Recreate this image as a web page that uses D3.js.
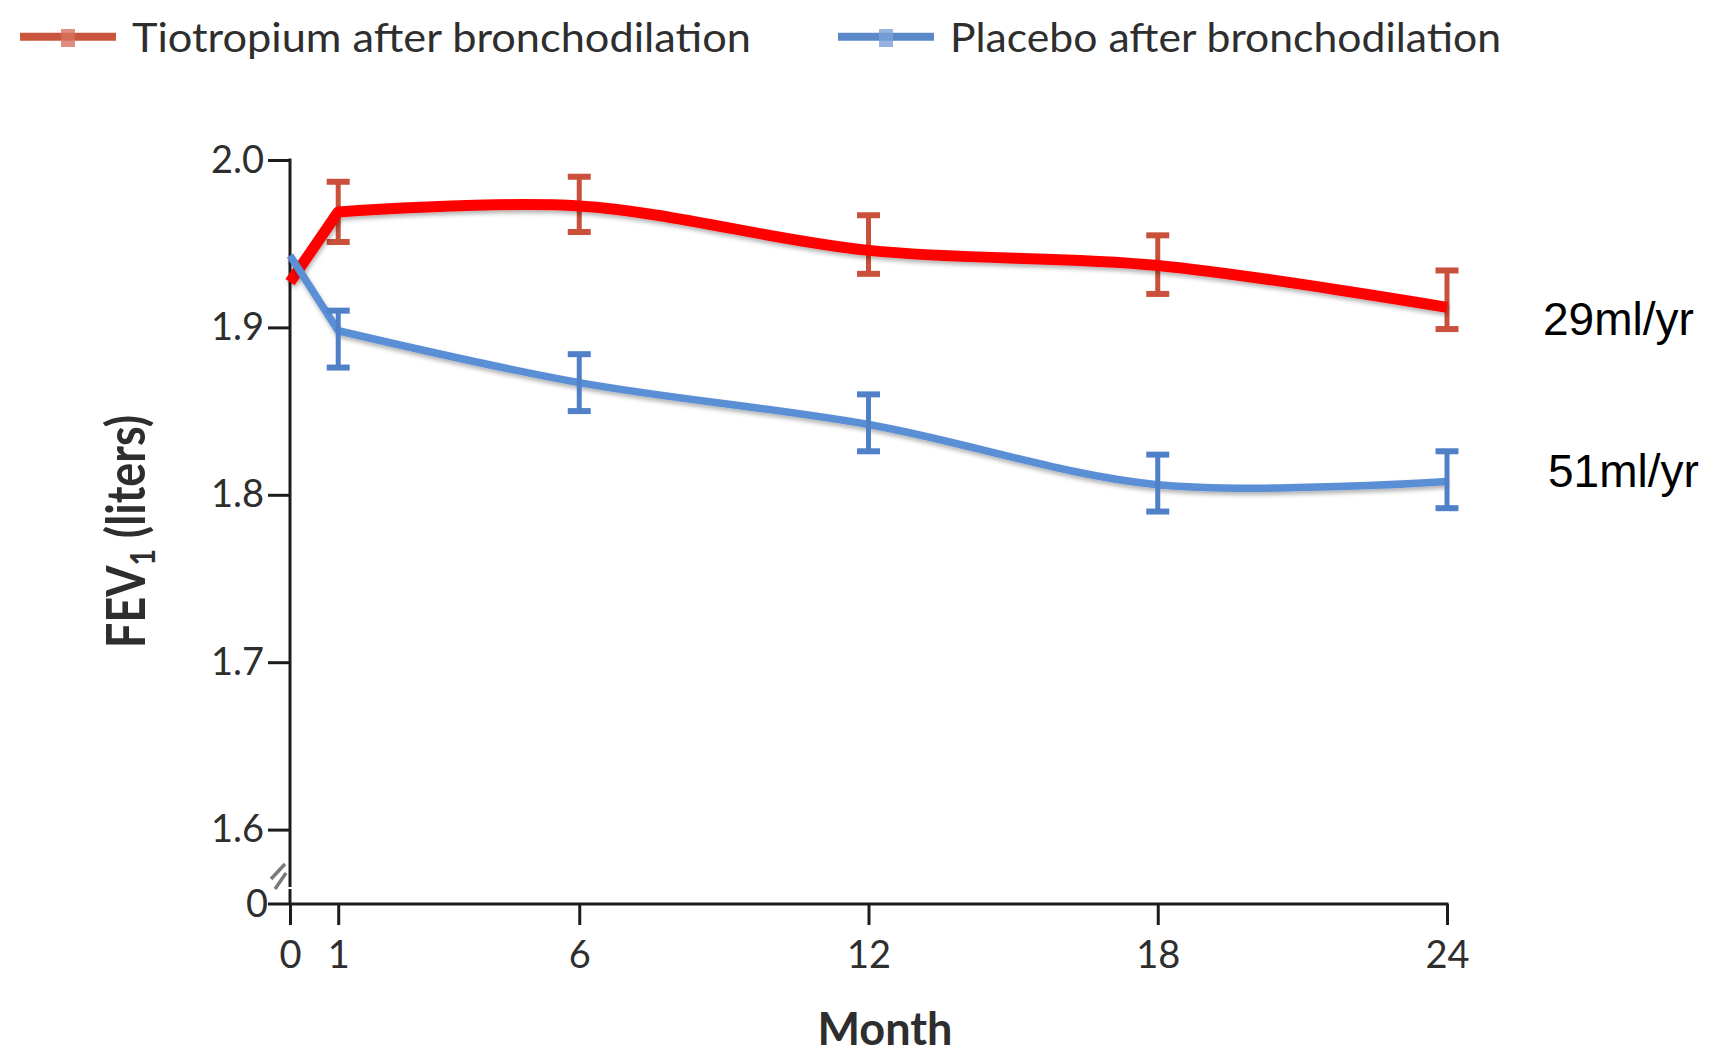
<!DOCTYPE html>
<html>
<head>
<meta charset="utf-8">
<script src="https://cdn.jsdelivr.net/npm/d3@7"></script>
<style>
  html, body { margin: 0; padding: 0; background: #fff; }
  svg { display: block; }
</style>
</head>
<body>
<svg id="chart" width="1716" height="1059"></svg>
<script>
// data (litres)
const months = [0, 1, 6, 12, 18, 24];
const tiotropiumMean = [1.927, 1.969, 1.9725, 1.946, 1.937, 1.912];
const tiotropiumUpper = [null, 1.987, 1.990, 1.967, 1.955, 1.934];
const tiotropiumLower = [null, 1.951, 1.957, 1.932, 1.920, 1.899];
const placeboMean = [1.943, 1.898, 1.867, 1.842, 1.806, 1.808];
const placeboUpper = [null, 1.910, 1.884, 1.860, 1.824, 1.826];
const placeboLower = [null, 1.876, 1.850, 1.826, 1.790, 1.792];
const yTicks = [1.6, 1.7, 1.8, 1.9, 2.0];
const xTicks = [0, 1, 6, 12, 18, 24];
const seriesNames = ['Tiotropium after bronchodilation', 'Placebo after bronchodilation'];
const slopeLabels = ['29ml/yr', '51ml/yr'];

const svg = d3.select('#chart');
const uiFont = 'Lato, "Open Sans", sans-serif';
const axisColor = '#1c1c1c';
const textColor = '#2e2e2e';

const x = d3.scaleLinear().domain([0, 24]).range([290, 1447]);
const y = d3.scaleLinear().domain([1.6, 2.0]).range([829.6, 160]);
const xAxisY = 904;

const series = [
  { name: seriesNames[0], mean: tiotropiumMean, hi: tiotropiumUpper, lo: tiotropiumLower,
    line: '#ff0000', bar: '#c9503a', width: 11, legendX: 20 },
  { name: seriesNames[1], mean: placeboMean, hi: placeboUpper, lo: placeboLower,
    line: '#5a8fd5', bar: '#4f80c8', width: 7.5, legendX: 838 }
];

// soft shadow under the lines
const defs = svg.append('defs');
defs.append('filter')
  .attr('id', 'shadow')
  .attr('x', '-5%').attr('y', '-20%').attr('width', '110%').attr('height', '140%')
  .append('feDropShadow')
  .attr('dx', 1).attr('dy', 3).attr('stdDeviation', 2)
  .attr('flood-color', '#000').attr('flood-opacity', 0.3);

// axes
const yAxis = svg.append('g')
  .attr('transform', `translate(${x(0)},0)`)
  .call(d3.axisLeft(y).tickValues(yTicks).tickSize(22).tickPadding(4).tickFormat(d3.format('.1f')));
yAxis.select('.domain').remove();
yAxis.selectAll('.tick line').attr('stroke', axisColor).attr('stroke-width', 3);
yAxis.selectAll('.tick text')
  .attr('font-family', uiFont).attr('font-size', 38).attr('fill', textColor);

svg.append('line')
  .attr('x1', x(0)).attr('x2', x(0))
  .attr('y1', y(2.0) - 1.5).attr('y2', 887)
  .attr('stroke', axisColor).attr('stroke-width', 3);

// axis break marks
svg.append('g').selectAll('line')
  .data([[285, 864, 271, 879], [286, 873, 275, 889]])
  .enter()
  .append('line')
  .attr('x1', (d) => d[0]).attr('y1', (d) => d[1])
  .attr('x2', (d) => d[2]).attr('y2', (d) => d[3])
  .attr('stroke', '#7a7a7a').attr('stroke-width', 3.5);

const xAxis = svg.append('g')
  .attr('transform', `translate(0,${xAxisY})`)
  .call(d3.axisBottom(x).tickValues(xTicks).tickSize(21).tickPadding(16));
xAxis.select('.domain').remove();
xAxis.selectAll('.tick line').attr('stroke', axisColor).attr('stroke-width', 3);
xAxis.selectAll('.tick text')
  .attr('font-family', uiFont).attr('font-size', 38).attr('fill', textColor);

svg.append('line')
  .attr('x1', 268).attr('x2', x(24) + 1.5)
  .attr('y1', xAxisY).attr('y2', xAxisY)
  .attr('stroke', axisColor).attr('stroke-width', 3);
svg.append('line')
  .attr('x1', x(0)).attr('x2', x(0))
  .attr('y1', 889).attr('y2', xAxisY)
  .attr('stroke', axisColor).attr('stroke-width', 3);

svg.append('text')
  .attr('x', 268).attr('y', xAxisY).attr('dy', '0.35em')
  .attr('text-anchor', 'end')
  .attr('font-family', uiFont).attr('font-size', 38).attr('fill', textColor)
  .text('0');

// axis titles
svg.append('text')
  .attr('x', 885).attr('y', 1045)
  .attr('text-anchor', 'middle')
  .attr('font-family', uiFont).attr('font-weight', 700).attr('font-size', 45)
  .attr('textLength', 135).attr('lengthAdjust', 'spacingAndGlyphs')
  .attr('fill', textColor)
  .text('Month');

const yTitle = svg.append('text')
  .attr('transform', 'translate(145,531.5) rotate(-90)')
  .attr('text-anchor', 'middle')
  .attr('font-family', uiFont).attr('font-weight', 700).attr('font-size', 54)
  .attr('textLength', 233).attr('lengthAdjust', 'spacingAndGlyphs')
  .attr('fill', textColor);
yTitle.append('tspan').text('FEV');
yTitle.append('tspan').attr('font-size', 34).attr('dy', 10).text('1');
yTitle.append('tspan').attr('dy', -10).text(' (liters)');

// lines and error bars: straight from month 0 to 1, smooth afterwards
const straight = d3.line()
  .x((d) => x(d.month))
  .y((d) => y(d.value));
const smooth = d3.line()
  .x((d) => x(d.month))
  .y((d) => y(d.value))
  .curve(d3.curveCatmullRom.alpha(0.5));

function drawBars(s) {
  const pts = months.map((m, i) => ({ month: m, hi: s.hi[i], lo: s.lo[i] }))
    .filter((d) => d.hi !== null);
  const g = svg.append('g').attr('stroke', s.bar);
  g.selectAll('.stem')
    .data(pts)
    .enter()
    .append('line')
    .attr('class', 'stem')
    .attr('x1', (d) => x(d.month)).attr('x2', (d) => x(d.month))
    .attr('y1', (d) => y(d.hi)).attr('y2', (d) => y(d.lo))
    .attr('stroke-width', 5);
  g.selectAll('.cap')
    .data(pts.flatMap((d) => [d.hi, d.lo].map((v) => ({ month: d.month, v }))))
    .enter()
    .append('line')
    .attr('class', 'cap')
    .attr('x1', (d) => x(d.month) - 11.5).attr('x2', (d) => x(d.month) + 11.5)
    .attr('y1', (d) => y(d.v)).attr('y2', (d) => y(d.v))
    .attr('stroke-width', 6);
}

function drawLine(s) {
  const pts = months.map((m, i) => ({ month: m, value: s.mean[i] }));
  // join the straight first segment and the smooth rest into one path
  const d = straight(pts.slice(0, 2)) + smooth(pts.slice(1)).replace(/^M[^A-Za-z]*/, '');
  svg.append('path')
    .attr('d', d)
    .attr('fill', 'none')
    .attr('stroke', s.line)
    .attr('stroke-width', s.width)
    .attr('stroke-linejoin', 'round')
    .attr('filter', 'url(#shadow)');
}

drawBars(series[0]);
drawLine(series[0]);
drawLine(series[1]);
drawBars(series[1]);

// slope annotations
svg.append('g').selectAll('text')
  .data(slopeLabels)
  .enter()
  .append('text')
  .attr('x', (d, i) => [1543, 1548][i])
  .attr('y', (d, i) => [335, 487][i])
  .attr('font-family', '"Liberation Sans", Arial, sans-serif')
  .attr('font-size', 46)
  .attr('fill', '#000')
  .text((d) => d);

// legend
const legend = svg.append('g').selectAll('g')
  .data(series)
  .enter()
  .append('g')
  .attr('transform', (d) => `translate(${d.legendX},0)`);
legend.append('line')
  .attr('x1', 0).attr('x2', 96)
  .attr('y1', 36.7).attr('y2', 36.7)
  .attr('stroke', (d, i) => (i === 0 ? '#c9553c' : '#5b88c8'))
  .attr('stroke-width', 8);
legend.append('rect')
  .attr('x', 41).attr('y', 29).attr('width', 14).attr('height', 18)
  .attr('fill', (d, i) => (i === 0 ? '#d6735f' : '#7aa0d6'))
  .attr('opacity', 0.8);
legend.append('text')
  .attr('x', 112).attr('y', 51.5)
  .attr('font-family', uiFont).attr('font-size', 41)
  .attr('textLength', (d, i) => [619, 551][i])
  .attr('lengthAdjust', 'spacingAndGlyphs')
  .attr('fill', textColor)
  .text((d) => d.name);
</script>
</body>
</html>
